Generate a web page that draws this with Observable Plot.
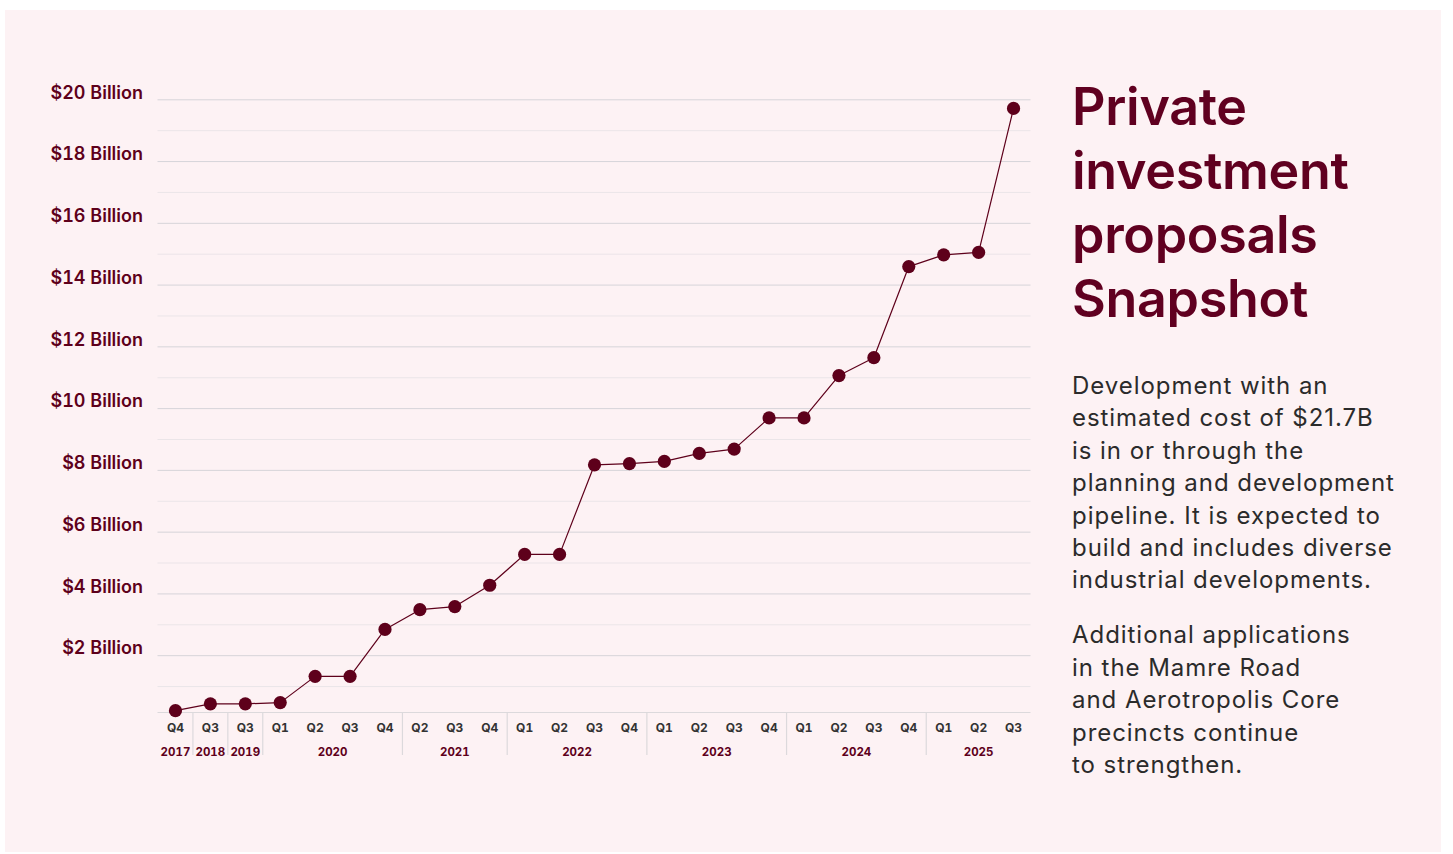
<!DOCTYPE html>
<html><head><meta charset="utf-8">
<script src="https://cdn.jsdelivr.net/npm/d3@7"></script>
<script src="https://cdn.jsdelivr.net/npm/@observablehq/plot@0.6"></script>
<style>
html,body{margin:0;padding:0;background:#fff;width:1453px;height:854px;overflow:hidden;font-family:Inter,"Noto Sans",sans-serif}
#panel{position:absolute;left:5px;top:10px;width:1436px;height:842px;background:#fdf2f4}
#chart{position:absolute;left:0;top:0}
#title{position:absolute;left:1072px;top:75px;font-size:52px;font-weight:600;line-height:64px;color:#600020;letter-spacing:-0.3px}
#body{position:absolute;left:1072px;top:370px;font-size:24px;line-height:32.4px;color:#2b2b2b;letter-spacing:0.95px}
#body p{margin:0}
#body p+p{margin-top:22.6px}
</style></head>
<body>
<div id="panel"></div>
<div id="chart"></div>
<div id="title">Private<br>investment<br>proposals<br>Snapshot</div>
<div id="body">
<p>Development with an<br>estimated cost of $21.7B<br>is in or through the<br>planning and development<br>pipeline. It is expected to<br>build and includes diverse<br>industrial developments.</p>
<p>Additional applications<br>in the Mamre Road<br>and Aerotropolis Core<br>precincts continue<br>to strengthen.</p>
</div>
<script>
const quarters = ["Q4","Q3","Q3","Q1","Q2","Q3","Q4","Q2","Q3","Q4","Q1","Q2","Q3","Q4","Q1","Q2","Q3","Q4","Q1","Q2","Q3","Q4","Q1","Q2","Q3"];
const years = [2017,2018,2019,2020,2020,2020,2020,2021,2021,2021,2022,2022,2022,2022,2023,2023,2023,2023,2024,2024,2024,2024,2025,2025,2025];
const values = [0.22,0.44,0.44,0.48,1.33,1.33,2.85,3.49,3.59,4.28,5.28,5.28,8.18,8.22,8.29,8.55,8.69,9.70,9.70,11.07,11.65,14.60,14.98,15.06,19.72];
const yTicks = [2,4,6,8,10,12,14,16,18,20];
const yTickLabels = ["$2 Billion","$4 Billion","$6 Billion","$8 Billion","$10 Billion","$12 Billion","$14 Billion","$16 Billion","$18 Billion","$20 Billion"];
const yMinorTicks = [1,3,5,7,9,11,13,15,17,19];
const yBase = 0.16;

const maroon = "#5e001b";
const data = values.map((v, i) => ({i, q: quarters[i], year: years[i], value: v}));
const groups = d3.groups(data, d => d.year);
const yearCenters = groups.map(([y, g]) => d3.mean(g, d => d.i));
const yearLabels = groups.map(([y]) => String(y));
const boundaries = groups.slice(1).map(([y, g]) => g[0].i - 0.5);
const indices = data.map(d => d.i);

const chart = Plot.plot({
  width: 1050, height: 780,
  marginLeft: 157.5, marginRight: 19.5, marginTop: 99.3, marginBottom: 68,
  style: {background: "transparent", fontFamily: "Inter, sans-serif", overflow: "visible"},
  x: {type: "linear", domain: [-0.5, data.length - 0.5], axis: null, label: null},
  y: {domain: [yBase, 20], axis: null, label: null},
  marks: [
    Plot.gridY(yMinorTicks, {stroke: "#ebe5e8", strokeOpacity: 1, strokeWidth: 1}),
    Plot.gridY(yTicks, {stroke: "#d6d4d9", strokeOpacity: 1, strokeWidth: 1}),
    Plot.ruleY([yBase], {stroke: "#dcd9dc", strokeWidth: 1.2}),
    Plot.axisY({ticks: yTicks, tickSize: 0, tickPadding: 15, dy: -7, label: null,
      tickFormat: d => yTickLabels[yTicks.indexOf(d)], fontSize: 18, fontWeight: 600, fill: maroon,
      style: {letterSpacing: "0.3px"}}),
    Plot.axisX({ticks: boundaries, tickSize: 43, tickFormat: () => "", label: null, stroke: "#dcd9dc", strokeWidth: 1.2}),
    Plot.axisX({ticks: indices, tickSize: 0, tickPadding: 11, label: null,
      tickFormat: i => quarters[i], fontSize: 12, fontWeight: 700, fill: "#333"}),
    Plot.axisX({ticks: yearCenters, tickSize: 0, tickPadding: 35, label: null,
      tickFormat: c => yearLabels[yearCenters.indexOf(c)], fontSize: 11.5, fontWeight: 700, fill: maroon}),
    Plot.line(data, {x: "i", y: "value", stroke: maroon, strokeWidth: 1.2}),
    Plot.dot(data, {x: "i", y: "value", r: 6.6, fill: maroon, stroke: "none"})
  ]
});
document.getElementById("chart").appendChild(chart);
</script>
</body></html>
